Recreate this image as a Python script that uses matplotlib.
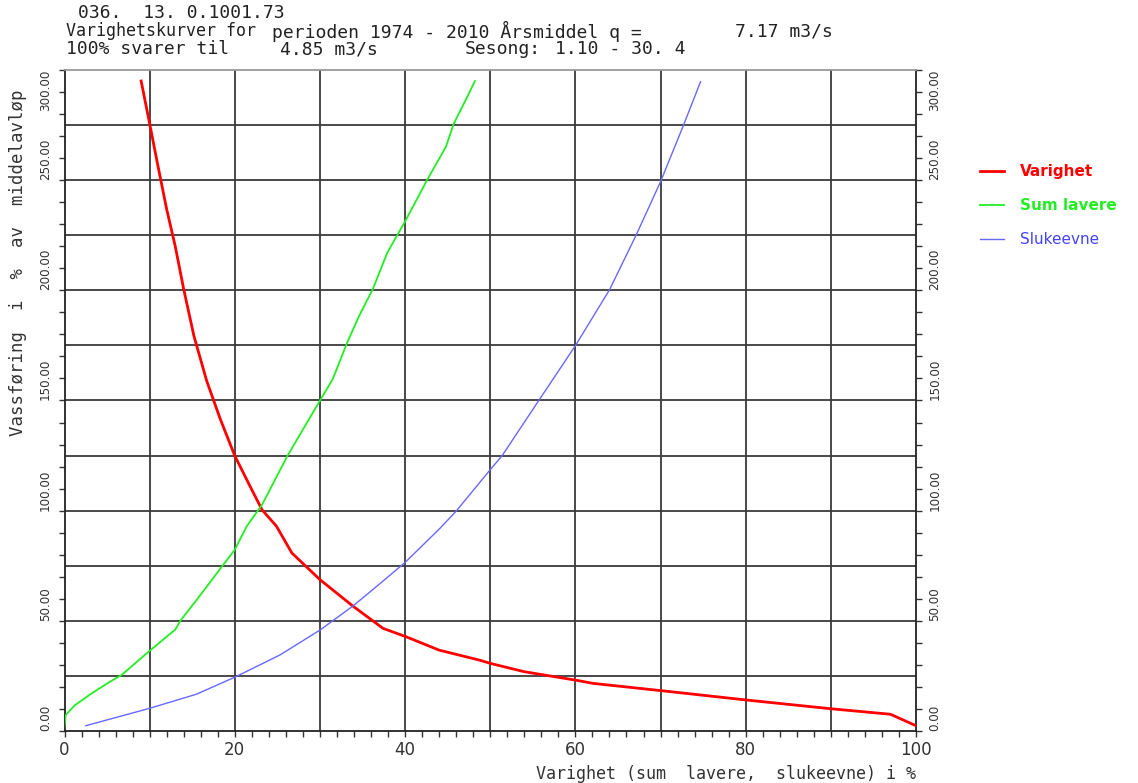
import numpy as np
import matplotlib
matplotlib.use("Agg")
import matplotlib.pyplot as plt

# ---------------- data ----------------
varighet_x = [9.0, 9.9, 10.9, 12.0, 13.0, 14.0, 15.2, 16.7, 18.3, 20.0, 21.8, 23.2,
              24.9, 26.7, 30.0, 33.9, 37.4, 40.1, 44.0, 48.7, 50.1, 54.0, 60.0,
              62.1, 70.1, 80.0, 90.0, 97.0, 100.0]
varighet_y = [295, 277.6, 257.9, 236.8, 220.1, 200.5, 179.3, 158.9, 141.5, 124.9,
              111.0, 100.4, 92.9, 80.8, 68.7, 56.6, 46.6, 42.8, 36.7, 32.2, 30.6,
              26.9, 23.1, 21.6, 18.3, 14.1, 10.1, 7.6, 2.4]

sum_lavere_x = [0.0, 0.15, 1.25, 3.2, 5.35, 6.7, 8.5, 10.0, 13.0, 13.6, 15.5, 18.5,
                20.0, 21.4, 23.2, 26.2, 30.1, 31.5, 33.2, 34.6, 36.2, 37.9, 40.1,
                42.6, 44.8, 45.7, 47.3, 48.2]
sum_lavere_y = [2.0, 7.3, 11.8, 17.1, 22.4, 25.4, 31.4, 36.4, 46.0, 50.0, 59.4, 74.7,
                82.3, 92.9, 102.7, 125.0, 150.6, 159.7, 176.3, 188.4, 200.5, 217.0,
                232.0, 250.2, 265.2, 275.5, 287.8, 295.0]

slukeevne_x = [2.5, 10.0, 15.5, 20.1, 25.3, 30.0, 33.9, 36.9, 40.0, 44.1, 46.0, 50.0,
               51.4, 55.7, 60.0, 64.0, 67.1, 70.0, 72.7, 74.7]
slukeevne_y = [2.4, 10.3, 16.7, 24.6, 34.5, 45.8, 56.8, 66.4, 76.5, 92.0, 99.8, 118.6,
               125.0, 150.0, 174.9, 200.2, 224.8, 249.3, 275.0, 294.7]

series_labels = ["Varighet", "Sum lavere", "Slukeevne"]

x_ticks = [0, 20, 40, 60, 80, 100]
y_ticks = [0, 50, 100, 150, 200, 250, 300]

# header pieces: (text, x pixel, line)
header_pieces = [
    ("036.  13. 0.1001.73", 78, 0),
    ("Varighetskurver for", 66, 1),
    ("perioden 1974 - 2010 Årsmiddel q =", 272, 1),
    ("7.17 m3/s", 735, 1),
    ("100% svarer til", 66, 2),
    ("4.85 m3/s", 280, 2),
    ("Sesong:", 465, 2),
    ("1.10 - 30. 4", 555, 2),
]
x_label = "Varighet (sum  lavere,  slukeevne) i %"
y_label = "Vassføring  i  %  av  middelavløp"

# ---------------- figure ----------------
W, H = 1138, 783
fig = plt.figure(figsize=(W / 100, H / 100), dpi=100)
L, R, T, B = 64.5, 916, 70, 731
ax = fig.add_axes([L / W, (H - B) / H, (R - L) / W, (B - T) / H])

ax.set_xlim(0, 100)
ax.set_ylim(0, 300)

grid_kw = dict(color="#3a3a3a", lw=1.3, zorder=1)
for gx in np.arange(10, 100, 10):
    ax.axvline(gx, **grid_kw)
for gy in np.arange(25, 300, 25):
    ax.axhline(gy, **grid_kw)

ax.plot(varighet_x, varighet_y, color="#ff0000", lw=2.0, label=series_labels[0], zorder=3)
ax.plot(sum_lavere_x, sum_lavere_y, color="#22ee22", lw=1.3, label=series_labels[1], zorder=3)
ax.plot(slukeevne_x, slukeevne_y, color="#6868ff", lw=1.0, label=series_labels[2], zorder=3)

# spines
for s in ["left", "bottom", "right"]:
    ax.spines[s].set_color("#222222")
    ax.spines[s].set_linewidth(1.3)
ax.spines["top"].set_color("#999999")
ax.spines["top"].set_linewidth(1.3)

# x ticks
ax.set_xticks(x_ticks)
ax.set_xticklabels([str(v) for v in x_ticks], fontsize=12, color="#333333",
                   family="DejaVu Sans")
ax.set_xticks(np.arange(0, 101, 2), minor=True)
ax.tick_params(axis="x", which="both", direction="out", length=4.5, width=1.0,
               color="#333333", pad=3, top=False)

# y ticks (both sides)
ax.set_yticks(y_ticks)
ax.set_yticklabels([f"{v:.2f}" for v in y_ticks])
ax.set_yticks(np.arange(0, 301, 10), minor=True)
ax.tick_params(axis="y", which="both", direction="out", length=4.5, width=1.0,
               color="#333333", left=True, right=True, labelleft=True,
               labelright=True, pad=4.5)
majors = ax.yaxis.get_major_ticks()
for t in majors:
    for lab in (t.label1, t.label2):
        lab.set_rotation(90)
        lab.set_va("bottom")
        lab.set_family("DejaVu Sans")
        lab.set_fontstretch("condensed")
        lab.set_fontsize(9.5)
        lab.set_color("#333333")
majors[-1].label1.set_va("top")
majors[-1].label2.set_va("top")

# axis labels
ax.set_xlabel(x_label, loc="right", fontsize=12, family="DejaVu Sans Mono",
              color="#333333", labelpad=4)
ax.set_ylabel(y_label, loc="top", fontsize=12.5, family="DejaVu Sans Mono",
              color="#333333")
ax.yaxis.set_label_coords(-(L - 27) / (R - L), (B - 90) / (B - T))

# header
line_y = [13, 31, 49]
for text, xp, li in header_pieces:
    size = 12 if text.startswith("Varighetskurver") else 13
    fig.text(xp / W, 1 - line_y[li] / H, text, family="DejaVu Sans Mono",
             fontsize=size, va="center", ha="left", color="#222222")

# legend
handles, labels = ax.get_legend_handles_labels()
leg = fig.legend(handles, labels, loc="upper left",
                 bbox_to_anchor=(980 / W, 1 - 164 / H), frameon=False,
                 fontsize=11, handlelength=1.6, handletextpad=1.0,
                 labelspacing=1.25, borderaxespad=0, borderpad=0)
for txt, c, wgt in zip(leg.get_texts(), ["#ff0000", "#22ee22", "#4444ff"],
                       ["bold", "bold", "normal"]):
    txt.set_color(c)
    txt.set_fontweight(wgt)

fig.savefig("out.png", dpi=100)
